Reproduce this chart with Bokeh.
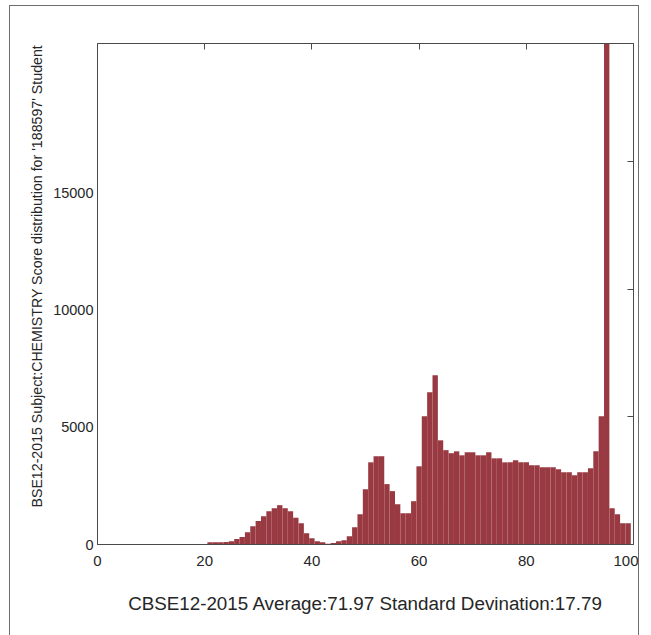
from bokeh.plotting import figure
from bokeh.models import Range1d, LinearAxis, FixedTicker, ColumnDataSource
from bokeh.embed import file_html
from bokeh.resources import INLINE

# ---- data ----
marks = list(range(21, 100))
counts = [
    100, 100, 100, 110, 140, 240, 320, 525, 780, 1000,      # 21-30
    1210, 1420, 1550, 1680, 1550, 1420, 1140, 910, 480, 270,  # 31-40
    140, 100, 30, 60, 140, 185, 355, 740, 1290, 2360,       # 41-50
    3510, 3770, 3770, 2580, 2280, 1720, 1340, 1340, 1850, 3340,  # 51-60
    5480, 6500, 7230, 4450, 4030, 3900, 3980, 3810, 3940, 3940,  # 61-70
    3810, 3810, 3940, 3680, 3680, 3510, 3510, 3600, 3510, 3510,  # 71-80
    3390, 3390, 3300, 3300, 3300, 3210, 3090, 3090, 2960, 3090,  # 81-90
    3090, 3260, 3980, 5480, 21400, 1550, 1290, 910, 910,         # 91-99
]
x_ticks = [0, 20, 40, 60, 80, 100]
y_ticks = [0, 5000, 10000, 15000]
right_ticks = [5000, 10000, 15000]
top_ticks = [20, 40, 60, 80]
x_title = "CBSE12-2015 Average:71.97 Standard Devination:17.79"
y_title = "BSE12-2015 Subject:CHEMISTRY Score distribution for '188597' Student"

BAR = "#993a42"
AX = "#4a4a4a"
TXT = "#262626"
FONT = "Liberation Sans"

src = ColumnDataSource(dict(mark=marks, count=counts))

W, H = 628, 629
p = figure(width=W, height=H,
           x_range=Range1d(0, 100), y_range=Range1d(0, 21400),
           output_backend="svg", toolbar_location=None,
           min_border_left=87, min_border_right=5,
           min_border_top=37, min_border_bottom=91)
p.margin = (6, 0, 0, 10)
p.styles = {"outline": "1px solid #6e6e6e"}
p.grid.visible = False
p.outline_line_color = AX
p.outline_line_width = 1
p.background_fill_color = "white"
p.border_fill_color = "white"

p.vbar(x="mark", top="count", bottom=0, width=1, source=src,
       fill_color=BAR, line_color=None)

# bottom axis
xa = p.xaxis[0]
xa.ticker = FixedTicker(ticks=x_ticks)
xa.major_tick_in = 0
xa.major_tick_out = 0
xa.minor_tick_line_color = None
xa.axis_line_color = AX
xa.major_label_text_font = FONT
xa.major_label_text_font_size = "15px"
xa.major_label_text_color = TXT
xa.major_label_standoff = 11
xa.axis_label = x_title
xa.axis_label_text_font = FONT
xa.axis_label_text_font_size = "18.8px"
xa.axis_label_text_font_style = "normal"
xa.axis_label_text_color = TXT
xa.axis_label_standoff = 24

# left axis
ya = p.yaxis[0]
ya.ticker = FixedTicker(ticks=y_ticks)
ya.major_tick_in = 0
ya.major_tick_out = 0
ya.minor_tick_line_color = None
ya.axis_line_color = AX
ya.major_label_text_font = FONT
ya.major_label_text_font_size = "14.5px"
ya.major_label_text_color = TXT
ya.major_label_standoff = 4
# leading no-break spaces move the visible title up, as in the reference
ya.axis_label = "\u00a0" * 9 + y_title
ya.axis_label_text_font = FONT
ya.axis_label_text_font_size = "14.2px"
ya.axis_label_text_font_style = "normal"
ya.axis_label_text_color = TXT
ya.axis_label_standoff = 5

# right axis (separate scale, ticks only)
p.extra_y_ranges = {"r": Range1d(0, 19620)}
ra = LinearAxis(y_range_name="r", ticker=FixedTicker(ticks=right_ticks),
                major_label_text_font_size="1px", major_label_text_color=None,
                major_label_standoff=0,
                major_tick_in=6, major_tick_out=0, minor_tick_line_color=None,
                axis_line_color=AX, major_tick_line_color=AX)
p.add_layout(ra, "right")

# top axis (ticks only)
ta = LinearAxis(ticker=FixedTicker(ticks=top_ticks),
                major_label_text_font_size="1px", major_label_text_color=None,
                major_label_standoff=0,
                major_tick_in=6, major_tick_out=0, minor_tick_line_color=None,
                axis_line_color=AX, major_tick_line_color=AX)
p.add_layout(ta, "above")

open("out.html", "w").write(file_html(p, INLINE))
